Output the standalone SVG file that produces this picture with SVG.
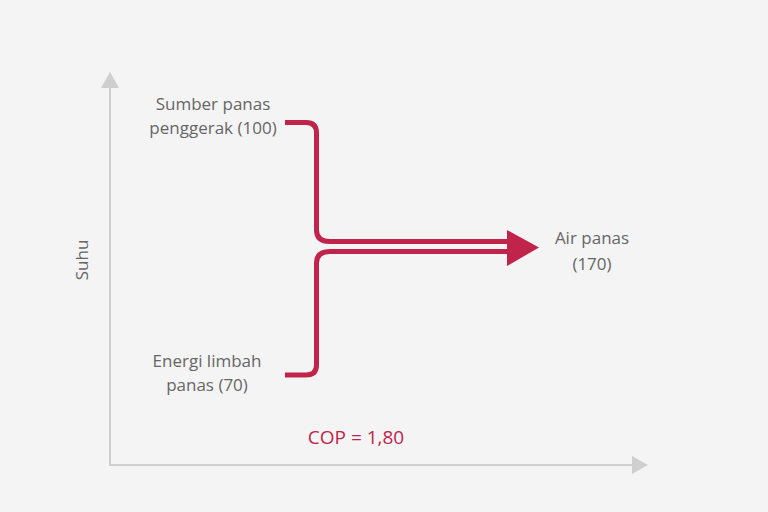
<svg xmlns="http://www.w3.org/2000/svg" width="768" height="512" viewBox="0 0 768 512">
<style>
.t{font-family:"Open Sans","Liberation Sans",sans-serif;font-size:17px;fill:#666;text-anchor:middle}
.r{fill:none;stroke:#c0244b;stroke-width:5;stroke-linecap:butt}
.ax{stroke:#cfcfcf;stroke-width:2;fill:none}
</style>
<rect width="768" height="512" fill="#f4f4f4"/>
<g id="axes">
<path class="ax" d="M110 86V465H634"/>
<polygon points="101,88 110,72 119,88" fill="#cfcfcf"/>
<polygon points="632,456 648,465 632,474" fill="#cfcfcf"/>
<text class="t" transform="translate(88,260) rotate(-90)">Suhu</text>
</g>
<g id="connectors">
<path class="r" d="M285 122.5H306Q316.5 122.5 316.5 133V230Q316.5 241.5 330 241.5H510"/>
<path class="r" d="M285 375H306Q316.5 375 316.5 365V263Q316.5 251.5 330 251.5H510"/>
<polygon points="507,230 539,247.5 507,266" fill="#c0244b"/>
</g>
<g id="source"><text class="t" x="213" y="110">Sumber panas</text><text class="t" x="213" y="134">penggerak (100)</text></g>
<g id="waste"><text class="t" x="207" y="367">Energi limbah</text><text class="t" x="207" y="391">panas (70)</text></g>
<g id="output"><text class="t" x="592" y="244">Air panas</text><text class="t" x="592" y="270">(170)</text></g>
<g id="cop"><text class="t" x="356" y="444" style="fill:#c0244b;font-size:19px">COP = 1,80</text></g>
</svg>
